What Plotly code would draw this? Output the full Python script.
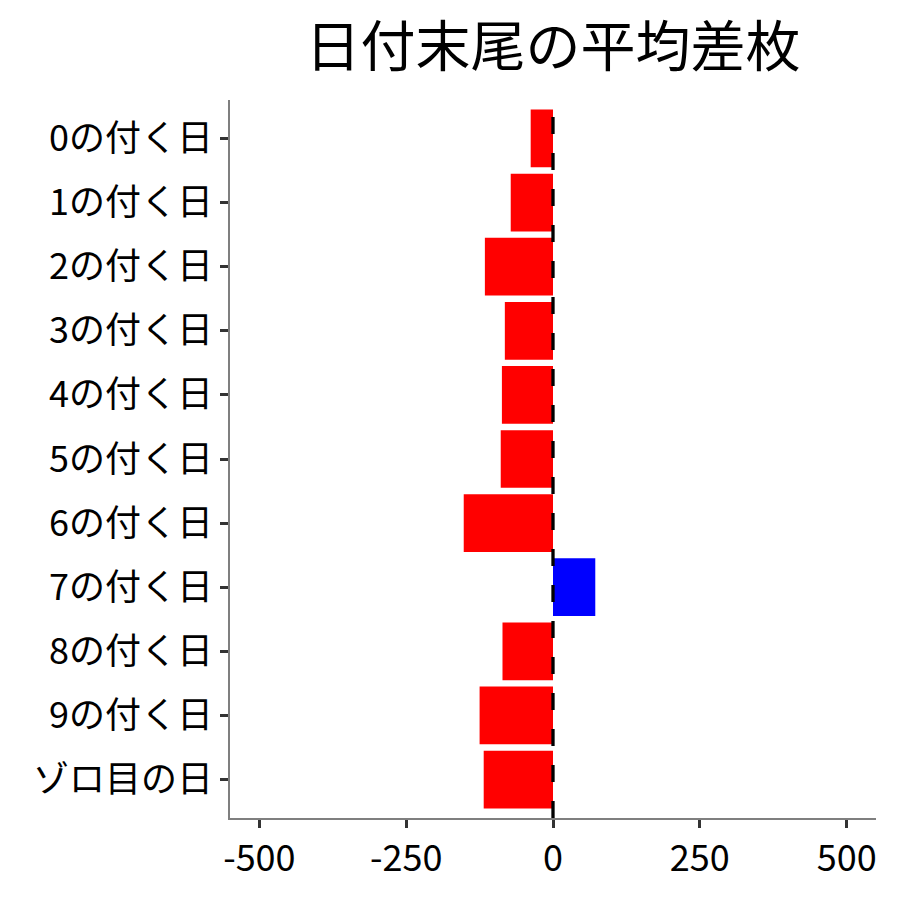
import plotly.graph_objects as go

# 日付末尾ごとの平均差枚
days = ["0の付く日", "1の付く日", "2の付く日", "3の付く日", "4の付く日", "5の付く日",
        "6の付く日", "7の付く日", "8の付く日", "9の付く日", "ゾロ目の日"]
avg_diff = [-38, -72, -116, -82, -87, -89, -152, 72, -86, -125, -118]

bar_colours = ["#0000FF" if v > 0 else "#FF0000" for v in avg_diff]
font_family = "Noto Sans CJK JP"

fig = go.Figure()
fig.add_bar(
    x=avg_diff,
    y=days,
    orientation="h",
    width=0.9,
    marker=dict(color=bar_colours, line=dict(width=0)),
    showlegend=False,
)

# 0 の破線
fig.add_shape(
    type="line", xref="x", yref="paper",
    x0=0, x1=0, y0=0, y1=1,
    line=dict(color="black", width=3.3, dash="17px,19px"),
    layer="above",
)

fig.update_layout(
    width=900,
    height=900,
    paper_bgcolor="white",
    plot_bgcolor="white",
    margin=dict(l=222, r=32, t=92, b=90),
    font=dict(family=font_family, color="black"),
    title=dict(
        text="日付末尾の平均差枚",
        font=dict(size=55, family=font_family, color="black"),
        x=0.5, xref="paper", xanchor="center",
        y=1 - 19 / 900, yref="container", yanchor="top",
    ),
    bargap=0.1,
)

fig.update_xaxes(
    range=[-550, 550],
    tickvals=[-500, -250, 0, 250, 500],
    ticktext=["-500", "-250", "0", "250", "500"],
    showgrid=False,
    zeroline=False,
    showline=True,
    linecolor="#7f7f7f",
    linewidth=1.5,
    ticks="outside",
    ticklen=8,
    tickwidth=2.5,
    tickcolor="#333333",
    tickfont=dict(size=36, color="black"),
)
fig.update_yaxes(
    categoryorder="array",
    categoryarray=days,
    range=[len(days) - 0.4, -0.6],
    showgrid=False,
    zeroline=False,
    showline=True,
    linecolor="#7f7f7f",
    linewidth=1.5,
    ticks="outside",
    ticklen=8,
    tickwidth=2.5,
    tickcolor="#333333",
    tickfont=dict(size=36, color="black"),
)

fig.write_html("out.html")
